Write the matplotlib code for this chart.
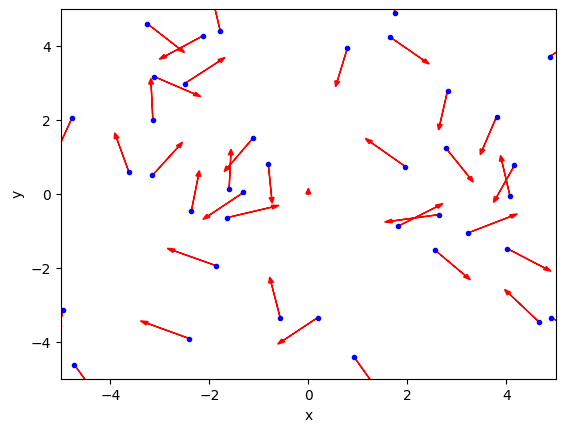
import numpy as np
import matplotlib
matplotlib.use("Agg")
import matplotlib.pyplot as plt

# start points (blue dots)
x = [-3.25, -2.12, -1.78, -3.11, -2.50, -3.14, -4.77, -3.62, -3.15, -1.11,
     -0.81, -1.60, -1.31, -2.36, -1.64, -1.86, -0.57, -4.95, -2.40, -4.73,
     0.19, 0.93, 1.74, 1.64, 0.79, 4.87, 2.81, 3.80, 1.96, 2.77,
     4.16, 4.07, 2.63, 1.80, 3.23, 2.55, 4.02, 4.65, 4.89]
y = [4.61, 4.29, 4.42, 3.18, 2.99, 2.02, 2.07, 0.59, 0.51, 1.53,
     0.83, 0.13, 0.05, -0.44, -0.63, -1.93, -3.33, -3.12, -3.90, -4.60,
     -3.33, -4.41, 4.91, 4.26, 3.96, 3.72, 2.80, 2.10, 0.75, 1.26,
     0.78, -0.04, -0.55, -0.87, -1.04, -1.50, -1.47, -3.44, -3.33]
# arrow tips
x_tip = [-2.50, -3.01, -1.93, -2.17, -1.68, -3.18, -5.10, -3.91, -2.54, -1.70,
         -0.73, -1.56, -2.13, -2.20, -0.59, -2.85, -0.78, -5.05, -3.39, -4.40,
         -0.62, 1.35, 1.74, 2.44, 0.55, 5.30, 2.63, 3.47, 1.15, 3.33,
         3.74, 3.88, 1.54, 2.72, 4.22, 3.27, 4.90, 3.96, 5.30]
y_tip = [3.83, 3.65, 5.27, 2.64, 3.70, 3.13, 1.10, 1.66, 1.41, 0.61,
         -0.24, 1.22, -0.68, 0.64, -0.30, -1.46, -2.24, -3.70, -3.42, -5.20,
         -4.05, -5.20, 5.50, 3.52, 2.91, 4.10, 1.74, 1.07, 1.51, 0.33,
         -0.22, 1.05, -0.75, -0.25, -0.53, -2.31, -2.08, -2.57, -3.60]

fig = plt.figure(figsize=(5.65, 4.32), dpi=100)
ax = fig.add_axes([60.7/565, 52.7/432, 495.3/565, 370/432])

for i in range(len(x)):
    ax.arrow(x[i], y[i], x_tip[i]-x[i], y_tip[i]-y[i], color='r',
             head_width=0.1, length_includes_head=True)
# almost zero arrow at the origin, only the head shows
ax.arrow(0, 0, 0, 0.01, color='r', head_width=0.1)

ax.plot(x, y, 'b.')
ax.set_xlim(-5, 5)
ax.set_ylim(-5, 5)
ax.set_xlabel('x')
ax.set_ylabel('y')

fig.savefig('out.png', dpi=100)
